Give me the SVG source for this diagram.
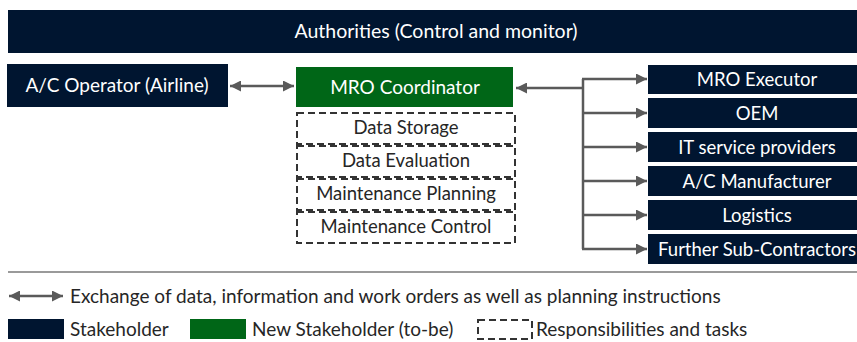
<svg xmlns="http://www.w3.org/2000/svg" width="857" height="342" viewBox="0 0 857 342">
<style>
.nav{fill:#001530}
.grn{fill:#006617}
.wt{fill:#ffffff;font-family:Lato,"Liberation Sans",sans-serif;font-size:19px;text-anchor:middle}
.wr{fill:#ffffff;font-family:Lato,"Liberation Sans",sans-serif;font-size:18.5px;text-anchor:middle}
.dk{fill:#262626;font-family:Lato,"Liberation Sans",sans-serif;font-size:18.5px;text-anchor:middle}
.lg{fill:#262626;font-family:Lato,"Liberation Sans",sans-serif;font-size:19px}
.dash{fill:none;stroke:#333333;stroke-width:2;stroke-dasharray:7,4}
.con{fill:none;stroke:#5a5a5a;stroke-width:2.5}
</style>
<defs>
<marker id="ah" viewBox="0 0 10 10" refX="10" refY="5" markerWidth="4.4" markerHeight="4.4" orient="auto-start-reverse" markerUnits="strokeWidth">
<path d="M0,0 L10,5 L0,10 z" fill="#5a5a5a"/>
</marker>
</defs>
<g id="authorities"><rect class="nav" x="8" y="10" width="849" height="43"/><text class="wt" x="436" y="38" style="font-size:19.5px">Authorities (Control and monitor)</text></g>
<g id="operator"><rect class="nav" x="7" y="64" width="221" height="43"/><text class="wt" x="117" y="92">A/C Operator (Airline)</text></g>
<g id="coordinator"><rect class="grn" x="296" y="67" width="217" height="40"/><text class="wt" x="405" y="94">MRO Coordinator</text></g>
<g id="task-storage"><rect class="dash" x="297" y="113" width="218" height="31"/><text class="dk" x="406" y="134">Data Storage</text></g>
<g id="task-evaluation"><rect class="dash" x="297" y="146" width="218" height="31"/><text class="dk" x="406" y="167">Data Evaluation</text></g>
<g id="task-planning"><rect class="dash" x="297" y="179" width="218" height="31"/><text class="dk" x="406" y="200">Maintenance Planning</text></g>
<g id="task-control"><rect class="dash" x="297" y="212" width="218" height="31"/><text class="dk" x="406" y="233">Maintenance Control</text></g>
<g id="executor"><rect class="nav" x="648" y="65" width="209" height="29"/><text class="wr" x="757" y="86">MRO Executor</text></g>
<g id="oem"><rect class="nav" x="648" y="98" width="209" height="30"/><text class="wr" x="757" y="120">OEM</text></g>
<g id="it"><rect class="nav" x="648" y="132" width="209" height="30"/><text class="wr" x="757" y="154">IT service providers</text></g>
<g id="manufacturer"><rect class="nav" x="648" y="166" width="209" height="30"/><text class="wr" x="757" y="188">A/C Manufacturer</text></g>
<g id="logistics"><rect class="nav" x="648" y="200" width="209" height="30"/><text class="wr" x="757" y="222">Logistics</text></g>
<g id="subcontractors"><rect class="nav" x="648" y="234" width="209" height="30"/><text class="wr" x="757" y="256">Further Sub-Contractors</text></g>
<g id="connectors">
<line class="con" x1="230" y1="86" x2="294" y2="86" marker-start="url(#ah)" marker-end="url(#ah)"/>
<line class="con" x1="516" y1="88" x2="583" y2="88" marker-start="url(#ah)"/>
<line class="con" x1="583" y1="79" x2="583" y2="249"/>
<line class="con" x1="582" y1="79" x2="647" y2="79" marker-end="url(#ah)"/>
<line class="con" x1="582" y1="113" x2="647" y2="113" marker-end="url(#ah)"/>
<line class="con" x1="582" y1="147" x2="647" y2="147" marker-end="url(#ah)"/>
<line class="con" x1="582" y1="181" x2="647" y2="181" marker-end="url(#ah)"/>
<line class="con" x1="582" y1="215" x2="647" y2="215" marker-end="url(#ah)"/>
<line class="con" x1="582" y1="249" x2="647" y2="249" marker-end="url(#ah)"/>
</g>
<g id="legend">
<line x1="8" y1="272" x2="857" y2="272" stroke="#9a9a9a" stroke-width="2"/>
<line class="con" x1="9" y1="296" x2="63" y2="296" marker-start="url(#ah)" marker-end="url(#ah)"/>
<text class="lg" x="70" y="303">Exchange of data, information and work orders as well as planning instructions</text>
<rect class="nav" x="8" y="319" width="56" height="20"/>
<text class="lg" x="70" y="336">Stakeholder</text>
<rect class="grn" x="190" y="319" width="56" height="20"/>
<text class="lg" x="252" y="336">New Stakeholder (to-be)</text>
<rect class="dash" x="478" y="320" width="54" height="19"/>
<text class="lg" x="536" y="336">Responsibilities and tasks</text>
</g>
</svg>
